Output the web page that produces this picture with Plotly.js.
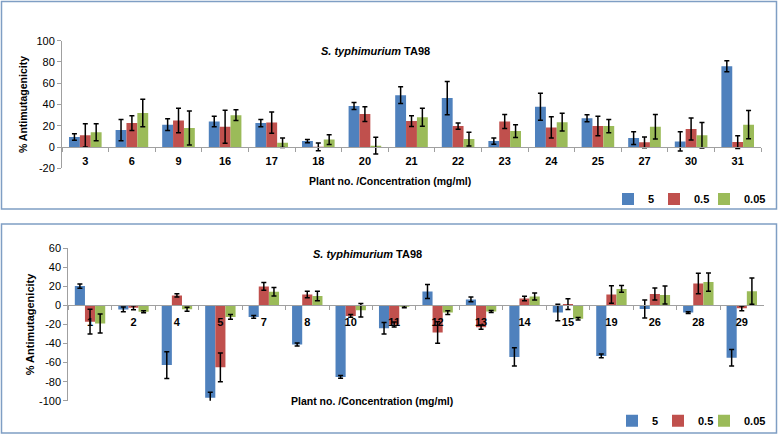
<!DOCTYPE html>
<html>
<head>
<meta charset="utf-8">
<script src="https://cdn.plot.ly/plotly-3.0.1.min.js"></script>
<style>html,body{margin:0;padding:0;background:#fff;}#chart{width:778px;height:435px;}</style>
</head>
<body>
<div id="chart"></div>
<script>
// ---- Top panel data ----
var topPlants = ['3','6','9','16','17','18','20','21','22','23','24','25','27','30','31'];
var top5 = [9.4, 16, 21, 24, 22.5, 5.6, 38.5, 48.8, 46, 5.6, 37.8, 27, 8.4, 5.3, 76];
var top5Err = [3, 10, 5.5, 5, 3.5, 1.5, 3.3, 7.8, 15.6, 3, 12.7, 3.3, 6, 9, 5.2];
var top05 = [11, 22.5, 25, 19, 23, 0.2, 31, 24.4, 19.7, 24, 18.4, 19.7, 4.4, 17, 4.7];
var top05Err = [11, 7, 11.5, 15.5, 10, 3.7, 7, 5, 3, 6.5, 10, 9.2, 5, 10.3, 6];
var top005 = [14, 32, 18, 30, 4, 7, 1.3, 28, 7.5, 15, 23.4, 19.7, 19, 11, 21];
var top005Err = [8, 13, 16, 5, 4.5, 4.5, 7.8, 8.5, 6.5, 6, 8.3, 6.2, 11.5, 12, 13.3];
var topTicks = [-20, 0, 20, 40, 60, 80, 100];

// ---- Bottom panel data ----
var botPlants = ['1','2','4','5','7','8','10','11','12','13','14','15','19','26','28','29'];
var bot5 = [20.3, -4.2, -62.6, -97, -12, -41, -75, -24, 14.7, 6.3, -54, -7.4, -53, -3.7, -7.5, -55];
var bot5Err = [2.3, 2.5, 14, 6, 1.5, 1.5, 1.5, 6, 7.3, 2.5, 9.6, 8.6, 2, 9.4, 1, 8.7];
var bot05 = [-17, -2.4, 10.5, -65, 20, 11.5, -11, -20, -28.4, -22.8, 7.3, 1.4, 11.5, 12, 23, -3];
var bot05Err = [13, 2, 1.7, 15, 4, 3.5, 1.5, 2.5, 11.3, 2.3, 2.3, 5.6, 9.2, 6.3, 10.8, 2.5];
var bot005 = [-19, -6.6, -4, -12, 14.3, 10, -5, -1.4, -7.5, -6.3, 9.5, -14, 17.4, 11, 24.5, 15];
var bot005Err = [10, 1, 2, 2.5, 4.5, 5, 7, 1, 2, 1, 3.7, 1.3, 3.5, 9.5, 9.5, 13.7];
var botTicks = [-100, -80, -60, -40, -20, 0, 20, 40, 60];

var seriesNames = ['5', '0.5', '0.05'];
var colors = ['#4F81BD', '#C0504D', '#9BBB59'];

var FONT = 'Liberation Sans, Arial, sans-serif';

function mk(x, y, e, i, xa, ya, lg, lw) {
  return {
    type: 'bar', x: x, y: y, name: seriesNames[i],
    xaxis: xa, yaxis: ya, legend: lg, legendwidth: lw,
    marker: {color: colors[i], line: {width: 0}},
    error_y: {type: 'data', array: e, visible: true, color: '#000', thickness: 1.5, width: 2.5}
  };
}

var data = [
  mk(topPlants, top5, top5Err, 0, 'x', 'y', 'legend', 1),
  mk(topPlants, top05, top05Err, 1, 'x', 'y', 'legend', 5),
  mk(topPlants, top005, top005Err, 2, 'x', 'y', 'legend', 26),
  mk(botPlants, bot5, bot5Err, 0, 'x2', 'y2', 'legend2', 1),
  mk(botPlants, bot05, bot05Err, 1, 'x2', 'y2', 'legend2', 1),
  mk(botPlants, bot005, bot005Err, 2, 'x2', 'y2', 'legend2', 22)
];

var W = 778, H = 435;
function px(x) { return x / W; }
function py(y) { return 1 - y / H; }

var boldFont = function (s) { return {family: FONT, size: s, color: '#000', weight: 'bold'}; };
var axGray = '#a0a0a0';
function xax(d0, d1, pos, so) {
  return {
    domain: [px(d0), px(d1)], anchor: 'free', position: py(pos),
    type: 'category', showline: true, linecolor: axGray, linewidth: 1,
    ticks: 'outside', tickson: 'boundaries', ticklen: 4, tickcolor: axGray,
    ticklabelstandoff: so,
    showgrid: false, zeroline: false,
    tickfont: boldFont(11)
  };
}
function yax(top, bottom, r0, r1, tv, anc, tsize, tstand) {
  return {
    domain: [py(bottom), py(top)], range: [r0, r1], autorange: false,
    tickmode: 'array', tickvals: tv, ticktext: tv.map(String), anchor: anc,
    showline: true, linecolor: axGray, linewidth: 1,
    ticks: 'outside', ticklen: 4, tickcolor: axGray,
    showgrid: false, zeroline: false,
    tickfont: {family: FONT, size: 11, color: '#000'},
    title: {text: '% Antimutagenicity', font: boldFont(tsize), standoff: tstand}
  };
}

var titleText = '<i>S. typhimurium</i> TA98';
function ann(text, x, y, size) {
  return {text: text, xref: 'paper', yref: 'paper', x: px(x), y: py(y),
          xanchor: 'center', yanchor: 'middle', showarrow: false, font: boldFont(size)};
}
function leg(x, y) {
  return {orientation: 'h', x: px(x), y: py(y), xanchor: 'left', yanchor: 'middle',
          font: boldFont(11), bgcolor: 'rgba(0,0,0,0)', itemwidth: 30,
          entrywidthmode: 'pixels', traceorder: 'normal'};
}

var layout = {
  width: W, height: H,
  margin: {l: 0, r: 0, t: 0, b: 0, autoexpand: false},
  paper_bgcolor: '#fff', plot_bgcolor: 'rgba(0,0,0,0)',
  barmode: 'group', bargap: 0.3, bargroupgap: 0,
  showlegend: true,
  xaxis: xax(62, 761, 147, 4),
  yaxis: yax(40.7, 168.3, -20, 100, topTicks, 'x', 10.5, 6),
  xaxis2: xax(68.3, 763.5, 305.3, 6),
  yaxis2: yax(248.3, 400.7, -100, 60, botTicks, 'x2', 11, 2),
  legend: leg(608, 199),
  legend2: leg(612, 420.7),
  annotations: [
    ann(titleText, 375, 51, 11),
    ann(titleText, 367, 254, 11),
    ann('Plant no. /Concentration (mg/ml)', 390, 181, 10.5),
    ann('Plant no. /Concentration (mg/ml)', 372, 400.7, 10.5)
  ],
  shapes: [
    {type: 'rect', xref: 'paper', yref: 'paper', x0: px(1.5), x1: px(776.5), y0: py(209), y1: py(1.5), line: {color: '#7f9ec4', width: 1.5}},
    {type: 'rect', xref: 'paper', yref: 'paper', x0: px(1.5), x1: px(776.5), y0: py(433), y1: py(224), line: {color: '#7f9ec4', width: 1.5}}
  ]
};

Plotly.newPlot('chart', data, layout, {staticPlot: true, displayModeBar: false});
</script>
</body>
</html>
